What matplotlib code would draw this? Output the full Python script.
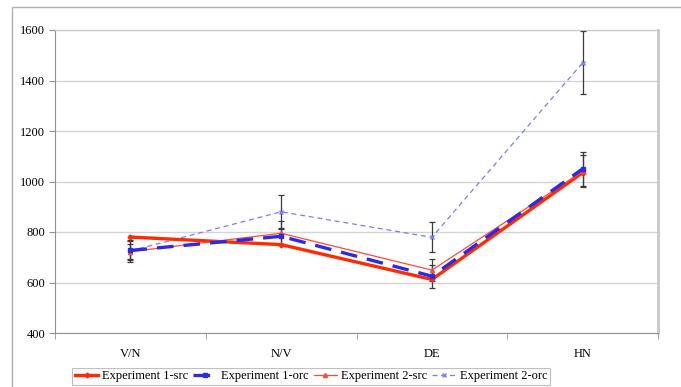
import numpy as np
import matplotlib.pyplot as plt
from matplotlib.patches import Rectangle

# data
cats = ["V/N", "N/V", "DE", "HN"]
e1_src = [780, 750, 612, 1035]
e1_orc = [727, 783, 625, 1050]
e2_src = [722, 795, 649, 1040]
e2_orc = [725, 880, 779, 1470]
e1_orc_err = [38, 30, 45, 68]
e2_src_err = [30, 48, 45, 63]
e2_orc_err = [45, 65, 59, 125]

plt.rcParams['font.family'] = ['Liberation Serif', 'DejaVu Serif']

fig = plt.figure(figsize=(6.81, 3.87), dpi=100)
ax = fig.add_axes([55/681, 54/387, 603/681, 303/387])

# chart area border
fig.patches.append(Rectangle((12/681, -0.05), 1.0, 1 - 7/387 + 0.05,
                             transform=fig.transFigure, fill=False,
                             edgecolor='#b0b0b0', lw=1.0))

x = np.arange(len(cats))
for vals, err in [(e2_orc, e2_orc_err), (e2_src, e2_src_err), (e1_orc, e1_orc_err)]:
    ax.errorbar(x, vals, yerr=err, fmt='none', ecolor='#3a3a3a',
                elinewidth=0.9, capsize=2.5, capthick=0.9, zorder=2)

ax.plot(x, e1_src, color='#ff2a00', lw=2.4, marker='D', ms=2.5,
        label='Experiment 1-src', zorder=4)
ax.plot(x, e1_orc, color='#2a2ae8', lw=2.4, ls=(0, (5, 3)), marker='s', ms=3,
        label='Experiment 1-orc', zorder=5)
ax.plot(x, e2_src, color='#ff4a3a', lw=0.9, marker='^', ms=3,
        label='Experiment 2-src', zorder=4)
ax.plot(x, e2_orc, color='#7a7aff', lw=0.9, ls=(0, (4, 3)), marker='x', ms=3,
        label='Experiment 2-orc', zorder=3)

ax.set_xlim(-0.5, 3.5)
ax.set_ylim(400, 1600)
ax.set_yticks(range(400, 1601, 200))
ax.set_xticks(x)
ax.set_xticklabels(cats)
ax.set_xticks(np.arange(-0.5, 3.6, 1), minor=True)
ax.tick_params(axis='x', which='major', length=0, pad=11, labelsize=9)
ax.tick_params(axis='x', which='minor', length=4, color='#909090')
ax.tick_params(axis='y', length=4, color='#909090', labelsize=9, pad=3)
ax.yaxis.grid(True, color='#d4d4d4', lw=1)
ax.set_axisbelow(True)
for s in ['left', 'bottom']:
    ax.spines[s].set_color('#909090')
for s in ['top', 'right']:
    ax.spines[s].set_color('#c8c8c8')
ax.spines['right'].set_linewidth(2)

leg = fig.legend(loc='lower center', bbox_to_anchor=(311/681, 0.0), ncol=4,
                 fontsize=9, frameon=True, fancybox=False, edgecolor='#b0b0b0',
                 handlelength=1.9, handletextpad=0.3, columnspacing=0.4,
                 borderpad=0.2, borderaxespad=0.2)
leg.get_frame().set_linewidth(0.8)

plt.savefig('out.png', dpi=100)
